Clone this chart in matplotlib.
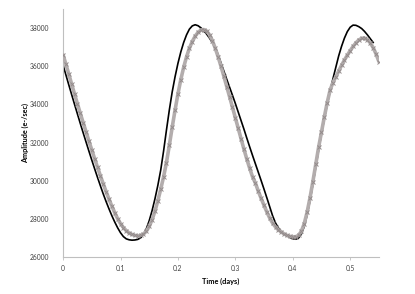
import numpy as np
import matplotlib
matplotlib.use("Agg")
import matplotlib.pyplot as plt

plt.rcParams['font.family'] = ['Lato', 'DejaVu Sans']

# time samples (days)
t_obs = np.linspace(0, 0.55, 111)
t_model = np.linspace(0, 0.54, 109)

# observed amplitude (e-/sec), grey markers
amp_obs = [
    36600, 36100, 35580, 35060, 34540, 34030, 33530, 33040, 32560, 32080,
    31610, 31150, 30700, 30260, 29830, 29420, 29030, 28660, 28320, 28010,
    27750, 27540, 27380, 27260, 27180, 27130, 27110, 27130, 27200, 27350,
    27600, 27950, 28400, 28950, 29550, 30200, 30950, 31850, 32800, 33700,
    34550, 35300, 35950, 36500, 36950, 37300, 37580, 37780, 37900, 37930,
    37850, 37650, 37350, 36950, 36500, 36000, 35480, 34940, 34400, 33850,
    33300, 32750, 32200, 31650, 31130, 30650, 30200, 29870, 29450, 29070,
    28700, 28350, 28030, 27770, 27570, 27420, 27310, 27210, 27130, 27080,
    27060, 27060, 27130, 27350, 27750, 28350, 29100, 29950, 30850, 31750,
    32550, 33350, 34100, 34750, 35150, 35450, 35750, 36050, 36330, 36580,
    36820, 37040, 37230, 37380, 37470, 37480, 37400, 37230, 36980, 36650,
    36250,
]

# model curve (black line)
amp_model = [
    36060, 35540, 35020, 34510, 34000, 33500, 33000, 32510, 32030, 31550,
    31080, 30620, 30170, 29730, 29300, 28900, 28520, 28160, 27830, 27530,
    27270, 27070, 26950, 26900, 26880, 26890, 26920, 27000, 27180, 27480,
    27900, 28430, 29050, 29750, 30550, 31550, 32650, 33700, 34650, 35450,
    36150, 36750, 37250, 37650, 37950, 38120, 38180, 38130, 38020, 37870,
    37690, 37480, 37240, 36960, 36620, 36180, 35750, 35320, 34900, 34480,
    34050, 33600, 33150, 32700, 32230, 31770, 31320, 30880, 30440, 30000,
    29550, 29090, 28620, 28150, 27780, 27520, 27350, 27220, 27110, 27020,
    26960, 26930, 26990, 27200, 27600, 28200, 28950, 29800, 30700, 31600,
    32450, 33250, 34000, 34700, 35350, 35950, 36550, 37050, 37480, 37820,
    38050, 38160, 38150, 38080, 37980, 37830, 37650, 37450, 37250,
]

xticks = [0, 0.1, 0.2, 0.3, 0.4, 0.5]
xtick_labels = ['0', '0.1', '0.2', '0.3', '0.4', '0.5']
yticks = [26000, 28000, 30000, 32000, 34000, 36000, 38000]

fig = plt.figure(figsize=(4.15, 2.94), dpi=100)
ax = fig.add_axes([0.152, 0.126, 0.761, 0.843])

ax.plot(t_model, amp_model, color='black', linewidth=1.2, zorder=2)
ax.plot(t_obs, amp_obs, color='#b3adad', linewidth=2.6, zorder=3,
        solid_capstyle='round')
ax.plot(t_obs, amp_obs, linestyle='none', marker='x', markersize=3.2,
        markeredgewidth=0.7, color='#948c8c', zorder=4)

ax.set_xlim(0, 0.55)
ax.set_ylim(26000, 39000)
ax.set_xticks(xticks)
ax.set_xticklabels(xtick_labels)
ax.set_yticks(yticks)

for s in ['top', 'right']:
    ax.spines[s].set_visible(False)
for s in ['left', 'bottom']:
    ax.spines[s].set_color('#bfbfbf')
    ax.spines[s].set_linewidth(0.8)

ax.tick_params(axis='x', length=2.5, width=0.6, color='#bfbfbf',
               labelsize=4.8, labelcolor='#404040', pad=3)
ax.tick_params(axis='y', length=0, labelsize=4.8, labelcolor='#404040', pad=10)

ax.set_xlabel('Time (days)', fontsize=5.3, fontweight='bold', color='black')
ax.set_ylabel('Amplitude (e-/sec)', fontsize=5.2, fontweight='bold', color='black')
ax.xaxis.set_label_coords(0.5, -0.085)
ax.yaxis.set_label_coords(-0.108, 0.5)

fig.savefig('out.png', dpi=100)
